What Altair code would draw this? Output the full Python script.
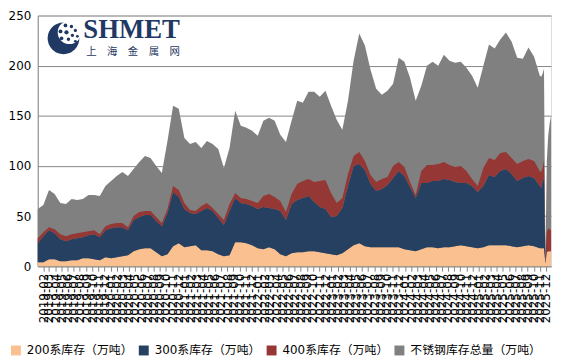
import altair as alt
import pandas as pd

# ---- data (4-weekly samples, then weekly at the end) ----
names = ["200系库存（万吨）", "300系库存（万吨）", "400系库存（万吨）", "不锈钢库存总量（万吨）"]
colors = ["#FAC090", "#254061", "#953735", "#808080"]

total = [57, 61, 76, 72, 63, 62, 67, 66, 67, 71, 71, 70, 80, 85, 90, 94, 90, 97, 104, 110,
         108, 100, 93, 125, 160, 157, 128, 122, 124, 118, 125, 122, 117, 98, 118, 155, 140, 138, 135, 130,
         145, 148, 145, 131, 124, 145, 165, 163, 174, 174, 169, 175, 160, 146, 136, 165, 205, 232, 220, 196,
         177, 171, 175, 182, 208, 204, 188, 165, 180, 200, 204, 200, 211, 205, 203, 204, 198, 190, 178, 200,
         221, 217, 226, 233, 224, 208, 207, 218, 209, 190,
         189, 192, 197, 8, 105, 130, 142, 150]

s200 = [4, 4, 7, 7, 5, 5, 6, 6, 8, 8, 7, 6, 9, 8, 9, 10, 11, 15, 17, 18,
        18, 14, 10, 12, 20, 23, 19, 20, 21, 16, 16, 15, 12, 10, 11, 24, 24, 23, 21, 18,
        17, 19, 17, 12, 10, 13, 14, 14, 15, 15, 14, 13, 12, 11, 13, 17, 21, 23, 20, 19,
        19, 19, 19, 19, 19, 17, 16, 15, 17, 19, 19, 18, 19, 19, 20, 21, 20, 19, 18, 19,
        21, 21, 21, 21, 20, 19, 20, 21, 20, 18,
        18, 18, 18, 3, 14, 15, 15, 15]

s300 = [19, 26, 29, 26, 22, 20, 21, 22, 21, 23, 25, 23, 27, 30, 30, 29, 25, 31, 32, 33,
        33, 31, 30, 41, 54, 46, 38, 33, 31, 39, 42, 40, 36, 31, 44, 44, 39, 39, 39, 39,
        42, 39, 40, 43, 36, 49, 52, 54, 55, 49, 45, 44, 37, 39, 45, 63, 79, 79, 76, 63,
        56, 58, 62, 69, 76, 73, 63, 53, 66, 64, 66, 67, 68, 67, 64, 62, 63, 61, 56, 61,
        70, 68, 74, 76, 72, 66, 68, 69, 68, 62,
        60, 66, 70, 2, 0, 0, 0, 0]

s400 = [5, 4, 3, 4, 5, 5, 5, 5, 5, 4, 4, 3, 4, 4, 4, 4, 3, 4, 5, 4,
        4, 4, 3, 4, 6, 7, 6, 3, 3, 5, 5, 3, 4, 5, 7, 5, 5, 5, 5, 6,
        11, 14, 12, 10, 8, 10, 16, 17, 17, 20, 26, 29, 24, 13, 10, 12, 10, 12, 9, 9,
        9, 10, 8, 12, 9, 9, 5, 3, 12, 18, 16, 17, 17, 15, 15, 17, 12, 7, 6, 18,
        17, 17, 18, 17, 16, 17, 17, 17, 17, 15,
        16, 14, 18, 3, 20, 23, 22, 21]

dates = list(pd.date_range("2019-01-04", periods=90, freq="28D"))
dates += list(pd.date_range(dates[-1] + pd.Timedelta(days=7), periods=8, freq="7D"))

rows = []
for i, d in enumerate(dates):
    for k, vals in enumerate([s200, s300, s400, total]):
        rows.append({"date": d, "series": names[k], "value": vals[i], "ord": k})
df = pd.DataFrame(rows)

first, last = dates[0], dates[-1]
x_enc = alt.X(
    "date:T",
    title=None,
    scale=alt.Scale(domain=[alt.DateTime(year=first.year, month=first.month, date=first.day),
                            alt.DateTime(year=last.year, month=last.month, date=last.day)], nice=False),
    axis=alt.Axis(format="%Y-%m", tickCount={"interval": "month", "step": 1}, labelAngle=270,
                  labelOverlap=False, labelBound=False, labelFlush=False, labelFontSize=12,
                  labelFont="DejaVu Sans", labelColor="#000000", labelPadding=2,
                  tickSize=5, tickColor="#868686", domainColor="#868686", grid=False),
)
y_axis = alt.Axis(values=[0, 50, 100, 150, 200, 250], grid=True, gridColor="#868686", ticks=False,
                  domainColor="#868686", labelFontSize=12, labelFont="DejaVu Sans",
                  labelColor="#000000", labelPadding=7)
y_scale = alt.Scale(domain=[0, 250], nice=False)
color = alt.Color("series:N", scale=alt.Scale(domain=names, range=colors),
                  legend=alt.Legend(title=None, orient="none", legendX=-28, legendY=332,
                                    direction="horizontal", symbolType="square", symbolSize=100,
                                    symbolStrokeWidth=0, labelFontSize=12,
                                    labelFont="DejaVu Sans, Noto Sans CJK SC", labelColor="#000000",
                                    columnPadding=5, labelOffset=5, labelLimit=200))

base = alt.Chart(df)
total_layer = base.transform_filter(alt.datum.ord == 3).mark_area(opacity=1).encode(
    x=x_enc, y=alt.Y("value:Q", stack=None, title=None, scale=y_scale, axis=y_axis), color=color)
stack_layer = base.transform_filter(alt.datum.ord < 3).mark_area(opacity=1).encode(
    x=x_enc, y=alt.Y("value:Q", stack="zero", title=None, scale=y_scale, axis=y_axis),
    color=color, order=alt.Order("ord:Q"))

navy = "#1F3864"
logo = [
    alt.Chart().mark_point(filled=True, shape="circle", opacity=1, color=navy).encode(
        x=alt.value(26), y=alt.value(23), size=alt.value(1024)),
    alt.Chart().mark_point(filled=True, shape="circle", opacity=1, color="white").encode(
        x=alt.value(32), y=alt.value(17), size=alt.value(560)),
]
for (px, py, s) in [(28, 10, 14), (34, 11, 12), (38, 15, 10), (23, 16, 16), (29, 17, 18),
                    (35, 20, 12), (40, 21, 8), (24, 23, 14), (31, 24, 12), (38, 26, 8)]:
    logo.append(alt.Chart().mark_point(filled=True, shape="circle", opacity=1, color=navy).encode(
        x=alt.value(px), y=alt.value(py), size=alt.value(s)))
logo.append(alt.Chart().mark_text(text="SHMET", font="Liberation Serif", fontWeight="bold",
                                  fontSize=27, color=navy, align="left", baseline="alphabetic").encode(
    x=alt.value(46), y=alt.value(23)))
logo.append(alt.Chart().mark_text(text="上　海　金　属　网", font="Noto Sans CJK SC", fontSize=10.5,
                                  color=navy, align="left", baseline="alphabetic").encode(
    x=alt.value(49), y=alt.value(40)))

chart = alt.layer(total_layer, stack_layer, *logo).properties(
    width=518, height=253,
    autosize=alt.AutoSizeParams(type="none"),
    padding={"left": 30, "top": 6, "right": 5, "bottom": 91},
).configure_view(stroke=None).configure(background="white")

chart.save("out.html", embed_options={"renderer": "svg", "actions": False})
